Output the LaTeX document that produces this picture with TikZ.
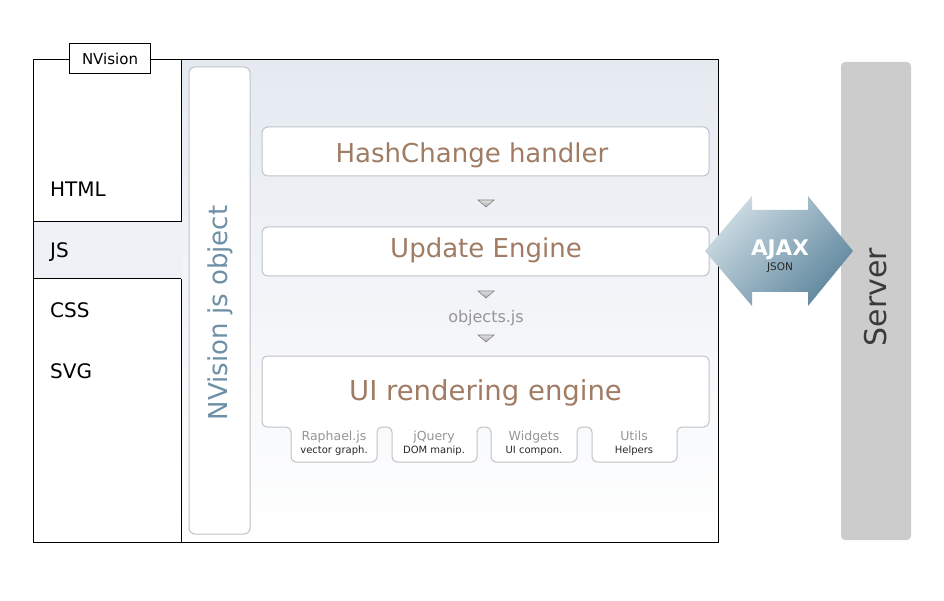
\documentclass[tikz,border=0pt]{standalone}
\usepackage{fontspec}
\setmainfont{DejaVu Sans}
\usetikzlibrary{shadings}
\definecolor{txtbrown}{RGB}{160,124,100}
\definecolor{objblue}{RGB}{110,144,166}
\definecolor{boxline}{RGB}{192,194,198}
\definecolor{pantop}{RGB}{229,234,241}
\definecolor{jsband}{RGB}{238,241,245}
\definecolor{servergray}{RGB}{204,204,204}
\definecolor{servertxt}{RGB}{58,58,58}
\definecolor{ajaxlight}{RGB}{205,220,228}
\definecolor{ajaxdark}{RGB}{95,135,157}
\definecolor{softgray}{RGB}{150,150,150}
\definecolor{tabtxt}{RGB}{40,40,40}
\tikzset{
  fsz/.style={font=\fontsize{#1}{#1}\selectfont},
  whitebox/.style={draw=boxline, fill=white, rounded corners=6pt, line width=1pt, inner sep=0pt},
  bigtxt/.style={text=txtbrown, fsz=26, inner sep=0pt, anchor=base},
  lefttxt/.style={anchor=base west, fsz=20, inner sep=0pt},
  tabtop/.style={text=softgray, fsz=12.5, inner sep=0pt, anchor=base},
  tabbot/.style={text=tabtxt, fsz=10, inner sep=0pt, anchor=base},
  tri/.style={draw=gray, top color=gray!25, bottom color=gray!65, line width=0.6pt},
  blackline/.style={draw=black, line width=1pt}
}
\begin{document}
\begin{tikzpicture}[x=1pt,y=-1pt]
\useasboundingbox (0,0) rectangle (944,601);
% right panel background
\shade[top color=pantop, bottom color=white] (181,60) rectangle (718,542);
\fill[white] (33,60) rectangle (181,542);
\fill[jsband] (33,222) rectangle (182,279);
% frame lines
\draw[blackline] (33,60) rectangle (718,542);
\draw[blackline] (181,60) -- (181,222);
\draw[blackline] (181,279) -- (181,542);
\draw[blackline] (33,222) -- (181,222);
\draw[blackline] (33,279) -- (181,279);
% tab label
\node[draw=black, fill=white, line width=1pt, minimum width=81pt, minimum height=30pt, inner sep=0pt, fsz=15] (nvtab) at (110,59) {NVision};
% left texts
\node[lefttxt] (html) at (50,197) {HTML};
\node[lefttxt] (js) at (50,258) {JS};
\node[lefttxt] (css) at (50,317) {CSS};
\node[lefttxt] (svg) at (50,378) {SVG};
% NVision js object
\node[whitebox, minimum width=61pt, minimum height=467pt] (nvobj) at (219.5,300.5) {};
\node[rotate=90, text=objblue, fsz=26, inner sep=0pt] (nvobjtxt) at (220,313) {NVision js object};
% main boxes
\node[whitebox, minimum width=447pt, minimum height=49pt] (hash) at (485.5,151.5) {};
\node[bigtxt] (hashtxt) at (472,163) {HashChange handler};
\node[whitebox, minimum width=447pt, minimum height=49pt] (upd) at (485.5,251.5) {};
\node[bigtxt] (updtxt) at (486,258) {Update Engine};
\draw[draw=boxline, fill=white, line width=1pt, rounded corners=5pt]
  (262,356) -- (709,356) -- (709,427) -- (677,427) -- (677,462) -- (592,462) -- (592,427)
  -- (577,427) -- (577,462) -- (491,462) -- (491,427) -- (477,427) -- (477,462)
  -- (392,462) -- (392,427) -- (377,427) -- (377,462) -- (291,462) -- (291,427)
  -- (262,427) -- cycle;
\node[text=txtbrown, fsz=27.5, inner sep=0pt, anchor=base] (ui) at (485.5,400) {UI rendering engine};
% tab labels
\node[tabtop] (t1a) at (334,440) {Raphael.js};
\node[tabbot] (t1b) at (334,453) {vector graph.};
\node[tabtop] (t2a) at (434,440) {jQuery};
\node[tabbot] (t2b) at (434,453) {DOM manip.};
\node[tabtop] (t3a) at (534,440) {Widgets};
\node[tabbot] (t3b) at (534,453) {UI compon.};
\node[tabtop] (t4a) at (634,440) {Utils};
\node[tabbot] (t4b) at (634,453) {Helpers};
% flow triangles and objects.js
\node[text=softgray, fsz=16, inner sep=0pt, anchor=base] (objjs) at (486,322) {objects.js};
\foreach \ty in {200,291,335} {
  \shadedraw[tri] (478,\ty) -- (494,\ty) -- (486,\ty+7) -- cycle;
}
% server
\node[fill=servergray, rounded corners=4pt, minimum width=70pt, minimum height=478pt, inner sep=0pt] (server) at (876,301) {};
\node[rotate=90, text=servertxt, fsz=30, inner sep=0pt] (servertxt) at (876,297) {Server};
% AJAX double arrow
\shade[top color=ajaxlight, bottom color=ajaxdark, shading angle=45]
  (705,251) -- (752,196) -- (752,210) -- (808,210) -- (808,196) -- (853,251)
  -- (808,306) -- (808,292) -- (752,292) -- (752,306) -- cycle;
\node[text=white, fsz=21.5, inner sep=0pt, anchor=base] (ajax) at (780,256) {\bfseries AJAX};
\node[text=tabtxt, fsz=10.5, inner sep=0pt, anchor=base] (json) at (780,271) {JSON};
\end{tikzpicture}
\end{document}
